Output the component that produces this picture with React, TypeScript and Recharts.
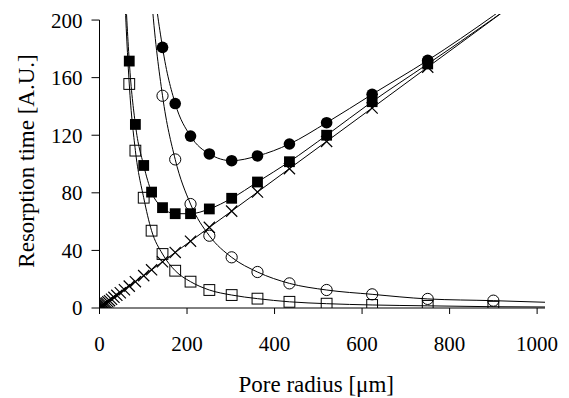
import React from 'react';
import { ComposedChart, Line, XAxis, YAxis, ReferenceLine } from 'recharts';

const FONT = '"Liberation Serif", "Times New Roman", Times, serif';

// Pore radii [µm] of the model points (shared by all series)
const radii = [68, 82, 101, 119, 144, 173, 208, 251, 302, 361, 434, 519, 623, 750, 900];
// Small radii where only the linear (×) term falls inside the window
const smallRadii = [0, 1.6, 2.6, 3.1, 3.7, 4.4, 5.3, 6.4, 7.7, 9.2, 11, 13.3, 15.9, 19.1, 22.9, 27.5, 33, 39.6, 47.5, 57];
const smallCross = [0, 0.4, 0.6, 0.7, 0.8, 1.0, 1.2, 1.4, 1.7, 2.1, 2.5, 3.0, 3.5, 4.3, 5.1, 6.1, 7.4, 8.8, 10.6, 12.7];

// Linear term (×)
const cross = [15.2, 18.3, 22.5, 26.5, 32.1, 38.6, 46.4, 56.0, 67.3, 80.5, 96.8, 115.7, 138.9, 167.3, 200.7];
// Model A: open squares (decaying term) and filled squares (total)
const openSquare = [155.6, 109.3, 76.6, 53.7, 37.5, 25.9, 18.3, 12.5, 9.0, 6.5, 4.3, 3.0, 2.1, 1.5, 0.9];
const filledSquare = [171.5, 127.5, 99, 80.5, 69.7, 65.5, 65.5, 68.8, 76.2, 87.5, 101.6, 120, 143.3, 169.5, 201];

// Model B: open circles (decaying term) and filled circles (total)
const circleRadii = [144, 173, 208, 251, 302, 361, 434, 519, 623, 750, 900];
const openCircle = [147.4, 103.2, 72.2, 50.2, 35.2, 25, 17.1, 12.5, 9.5, 6.3, 5.1];
const filledCircle = [181, 142, 119.4, 107, 102.3, 105.6, 113.9, 128.7, 148.4, 172, 203];

// Curve continuations outside the plotted window
const squareLeadRadii = [47, 57];
const openSquareLead = [323, 224];
const filledSquareLead = [334, 237];
const circleLeadRadii = [100, 120];
const openCircleLead = [305, 212];
const filledCircleLead = [327, 239];
const tailRadii = [1080];
const crossTail = [240.8];
const openSquareTail = [0.6];
const filledSquareTail = [241.4];
const openCircleTail = [3.4];
const filledCircleTail = [244.2];

// Number of points that carry a marker (the rest lie above the window)
const markedTotals = 14;

const xTicks = [0, 200, 400, 600, 800, 1000];
const yTicks = [0, 40, 80, 120, 160, 200];

const pts = (xs: number[], ys: number[]) => xs.map((x, i) => ({ x, y: ys[i] }));

const crossCurve = [...pts(smallRadii, smallCross), ...pts(radii, cross), ...pts(tailRadii, crossTail)];
const crossMarks = [...pts(smallRadii.slice(1), smallCross.slice(1)), ...pts(radii.slice(0, markedTotals), cross.slice(0, markedTotals))];

const openSqCurve = [...pts(squareLeadRadii, openSquareLead), ...pts(radii, openSquare), ...pts(tailRadii, openSquareTail)];
const openSqMarks = pts(radii, openSquare);
const filledSqCurve = [...pts(squareLeadRadii, filledSquareLead), ...pts(radii, filledSquare), ...pts(tailRadii, filledSquareTail)];
const filledSqMarks = pts(radii.slice(0, markedTotals), filledSquare.slice(0, markedTotals));

const openCiCurve = [...pts(circleLeadRadii, openCircleLead), ...pts(circleRadii, openCircle), ...pts(tailRadii, openCircleTail)];
const openCiMarks = pts(circleRadii, openCircle);
const filledCiCurve = [...pts(circleLeadRadii, filledCircleLead), ...pts(circleRadii, filledCircle), ...pts(tailRadii, filledCircleTail)];
const filledCiMarks = pts(circleRadii.slice(0, circleRadii.length - 1), filledCircle.slice(0, circleRadii.length - 1));

const S = 5.4;

const FilledCircleDot = (p: any) => (p.cx == null ? <g /> : <circle cx={p.cx} cy={p.cy} r={5.8} fill="#000" stroke="none" />);
const OpenCircleDot = (p: any) => (p.cx == null ? <g /> : <circle cx={p.cx} cy={p.cy} r={5.6} fill="none" stroke="#000" strokeWidth={1} />);
const FilledSquareDot = (p: any) => (p.cx == null ? <g /> : <rect x={p.cx - S} y={p.cy - S} width={2 * S} height={2 * S} fill="#000" stroke="none" />);
const OpenSquareDot = (p: any) => (p.cx == null ? <g /> : <rect x={p.cx - S} y={p.cy - S} width={2 * S} height={2 * S} fill="none" stroke="#000" strokeWidth={1} />);
const CrossDot = (p: any) => {
  if (p.cx == null) return <g />;
  const d = 5.6;
  return (
    <path
      d={`M${p.cx - d},${p.cy - d}L${p.cx + d},${p.cy + d}M${p.cx - d},${p.cy + d}L${p.cx + d},${p.cy - d}`}
      stroke="#000"
      strokeWidth={1.2}
      fill="none"
    />
  );
};

const tickStyle = { fill: '#000', fontSize: 21, fontFamily: FONT };
const labelStyle = { fill: '#000', fontSize: 23, fontFamily: FONT };

export default function App() {
  return (
    <ComposedChart width={561} height={390} margin={{ top: 6, right: 24, bottom: 0, left: 0 }}>
      <XAxis
        type="number"
        dataKey="x"
        domain={[0, 1018]}
        ticks={xTicks}
        interval={0}
        allowDataOverflow
        height={90}
        tickSize={6}
        tickMargin={22}
        tick={tickStyle}
        axisLine={{ stroke: '#000' }}
        tickLine={{ stroke: '#000' }}
        label={{ value: 'Pore radius [μm]', position: 'insideBottom', offset: 6, dx: -6, style: labelStyle }}
      />
      <YAxis
        type="number"
        dataKey="y"
        domain={[0, 204.2]}
        ticks={yTicks}
        interval={0}
        allowDataOverflow
        width={91.5}
        tickSize={8}
        tickMargin={9}
        tick={tickStyle}
        axisLine={false}
        tickLine={{ stroke: '#000' }}
        label={{ value: 'Resorption time [A.U.]', angle: -90, position: 'insideLeft', offset: 18, style: { ...labelStyle, textAnchor: 'middle' } }}
      />
      <ReferenceLine segment={[{ x: 0, y: 0 }, { x: 0, y: 200 }]} stroke="#000" strokeWidth={1} />

      <Line data={crossCurve} dataKey="y" type="linear" stroke="#000" strokeWidth={1} dot={false} isAnimationActive={false} />
      <Line data={openSqCurve} dataKey="y" type="monotone" stroke="#000" strokeWidth={1} dot={false} isAnimationActive={false} />
      <Line data={filledSqCurve} dataKey="y" type="monotone" stroke="#000" strokeWidth={1} dot={false} isAnimationActive={false} />
      <Line data={openCiCurve} dataKey="y" type="monotone" stroke="#000" strokeWidth={1} dot={false} isAnimationActive={false} />
      <Line data={filledCiCurve} dataKey="y" type="monotone" stroke="#000" strokeWidth={1} dot={false} isAnimationActive={false} />

      <Line data={crossMarks} dataKey="y" stroke="none" dot={CrossDot} activeDot={false} isAnimationActive={false} />
      <Line data={openSqMarks} dataKey="y" stroke="none" dot={OpenSquareDot} activeDot={false} isAnimationActive={false} />
      <Line data={openCiMarks} dataKey="y" stroke="none" dot={OpenCircleDot} activeDot={false} isAnimationActive={false} />
      <Line data={filledSqMarks} dataKey="y" stroke="none" dot={FilledSquareDot} activeDot={false} isAnimationActive={false} />
      <Line data={filledCiMarks} dataKey="y" stroke="none" dot={FilledCircleDot} activeDot={false} isAnimationActive={false} />
    </ComposedChart>
  );
}
